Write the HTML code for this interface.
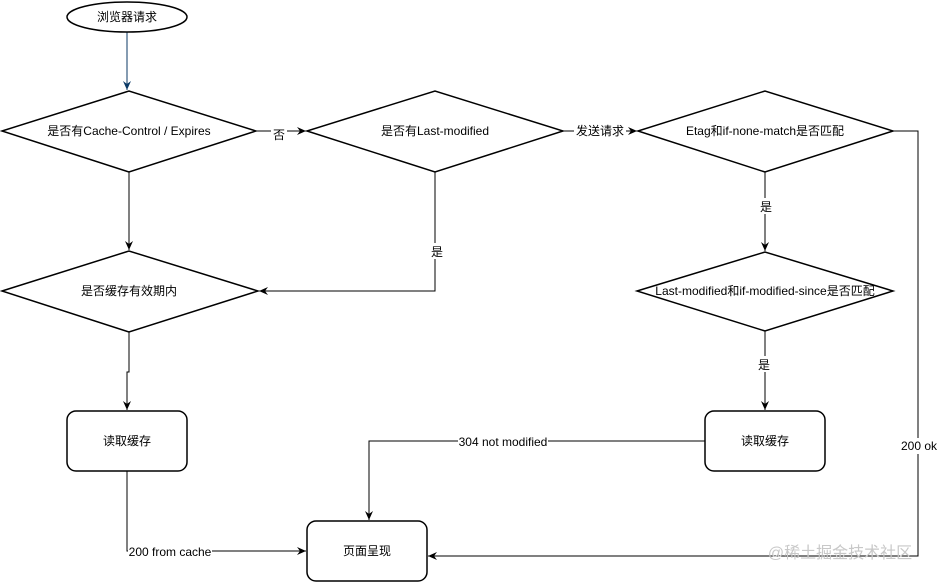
<!DOCTYPE html>
<html><head><meta charset="utf-8"><style>
body{margin:0;background:#fff;width:939px;height:582px;overflow:hidden}
svg text{font-family:"Liberation Sans","Noto Sans CJK SC",sans-serif;font-size:12px;fill:#000}
</style></head><body>
<svg width="939" height="582" viewBox="0 0 939 582" xmlns="http://www.w3.org/2000/svg">
<defs>
<marker id="a" markerWidth="10" markerHeight="10" refX="9" refY="5" orient="auto" markerUnits="userSpaceOnUse"><path d="M0,1 L9,5 L0,9 L3,5 Z" fill="#000"/></marker>
<marker id="b" markerWidth="10" markerHeight="10" refX="9" refY="5" orient="auto" markerUnits="userSpaceOnUse"><path d="M0,1 L9,5 L0,9 L3,5 Z" fill="#0b3a66"/></marker>
</defs>
<g fill="none" stroke="#000" stroke-width="1">
<line x1="127" y1="32" x2="127" y2="90" stroke="#0b3a66" marker-end="url(#b)"/>
<line x1="256" y1="131" x2="306" y2="131" marker-end="url(#a)"/>
<line x1="563" y1="131" x2="637" y2="131" marker-end="url(#a)"/>
<line x1="129" y1="172" x2="129" y2="250" marker-end="url(#a)"/>
<polyline points="435,172 435,291 259,291" marker-end="url(#a)"/>
<polyline points="129,332 129,372 127,372 127,410" marker-end="url(#a)"/>
<line x1="765" y1="172" x2="765" y2="251" marker-end="url(#a)"/>
<line x1="765" y1="331" x2="765" y2="410" marker-end="url(#a)"/>
<polyline points="893,131 918,131 918,556 428,556" marker-end="url(#a)"/>
<polyline points="705,441 369,441 369,520" marker-end="url(#a)"/>
<polyline points="127,471 127,551 306,551" marker-end="url(#a)"/>
</g>
<g fill="#fff" stroke="#000" stroke-width="1.5">
<ellipse cx="127" cy="17" rx="60" ry="15"/>
<polygon points="2,131 129,91 256,131 129,172"/>
<polygon points="307,131 435,91 563,131 435,172"/>
<polygon points="638,131 765,91 893,131 765,172"/>
<polygon points="2,291 129,251 258,291 129,332"/>
<polygon points="637,291 765,252 893,291 765,331"/>
<rect x="67" y="411" width="120" height="60" rx="9"/>
<rect x="705" y="411" width="120" height="60" rx="9"/>
<rect x="307" y="521" width="120" height="60" rx="9"/>
</g>
<g text-anchor="middle">
<text x="127" y="21">浏览器请求</text>
<text x="129" y="135">是否有Cache-Control / Expires</text>
<text x="435" y="135">是否有Last-modified</text>
<text x="765" y="135">Etag和if-none-match是否匹配</text>
<text x="129" y="295">是否缓存有效期内</text>
<text x="765" y="295">Last-modified和if-modified-since是否匹配</text>
<text x="127" y="445">读取缓存</text>
<text x="765" y="445">读取缓存</text>
<text x="367" y="555">页面呈现</text>
<rect x="271" y="126" width="16" height="16" fill="#fff"/><text x="279" y="139">否</text>
<rect x="574" y="124" width="52" height="15" fill="#fff"/><text x="600" y="135">发送请求</text>
<rect x="430" y="243" width="14" height="16" fill="#fff"/><text x="437" y="256">是</text>
<rect x="759" y="198" width="14" height="16" fill="#fff"/><text x="766" y="211">是</text>
<rect x="757" y="356" width="14" height="16" fill="#fff"/><text x="764" y="369">是</text>
<rect x="898" y="438" width="40" height="16" fill="#fff"/><text x="919" y="450">200 ok</text>
<rect x="458" y="434" width="90" height="16" fill="#fff"/><text x="503" y="446">304 not modified</text>
<rect x="128" y="544" width="84" height="16" fill="#fff"/><text x="170" y="556">200 from cache</text>
<text x="840" y="558" style="font-size:16px;fill:#c8c8c8">@稀土掘金技术社区</text>
</g>
</svg>
</body></html>
